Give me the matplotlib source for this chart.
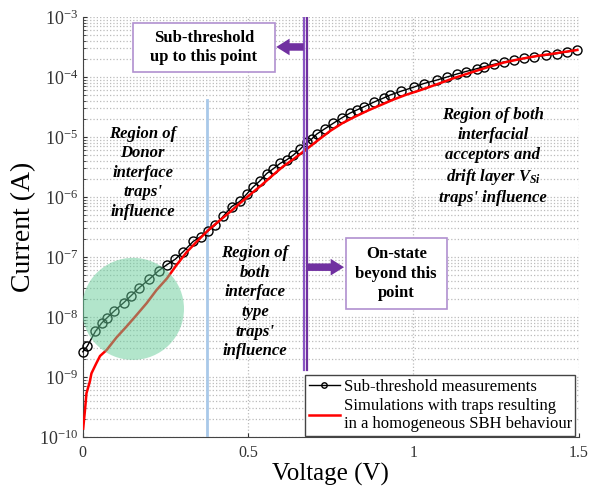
import numpy as np
import matplotlib
matplotlib.use('Agg')
import matplotlib.pyplot as plt
from matplotlib.patches import Ellipse, Rectangle

plt.rcParams['font.family'] = ['Liberation Serif', 'DejaVu Serif']
plt.rcParams['mathtext.fontset'] = 'custom'
plt.rcParams['mathtext.rm'] = 'Liberation Serif'
plt.rcParams['mathtext.it'] = 'Liberation Serif:italic:bold'
plt.rcParams['mathtext.bf'] = 'Liberation Serif:bold'

# measured sub-threshold data (voltage, log10 of current)
meas_v = [0.000, 0.013, 0.038, 0.057, 0.074, 0.095, 0.124, 0.145, 0.171, 0.201,
          0.229, 0.254, 0.279, 0.304, 0.334, 0.357, 0.380, 0.400, 0.425, 0.450,
          0.476, 0.496, 0.514, 0.536, 0.556, 0.576, 0.597, 0.617, 0.637, 0.658,
          0.678, 0.693, 0.708, 0.733, 0.758, 0.784, 0.809, 0.829, 0.849, 0.880,
          0.910, 0.930, 0.961, 1.001, 1.031, 1.072, 1.102, 1.132, 1.158, 1.193,
          1.213, 1.243, 1.274, 1.304, 1.334, 1.365, 1.400, 1.435, 1.466, 1.496]
meas_log = [-8.58, -8.49, -8.24, -8.10, -8.01, -7.90, -7.76, -7.65, -7.51, -7.37,
            -7.23, -7.13, -7.04, -6.91, -6.74, -6.66, -6.56, -6.47, -6.32, -6.16,
            -6.07, -5.95, -5.84, -5.73, -5.61, -5.53, -5.44, -5.38, -5.30, -5.20,
            -5.09, -5.03, -4.95, -4.86, -4.77, -4.68, -4.60, -4.55, -4.50, -4.42,
            -4.35, -4.30, -4.24, -4.17, -4.11, -4.05, -4.00, -3.95, -3.91, -3.86,
            -3.83, -3.79, -3.75, -3.72, -3.69, -3.66, -3.64, -3.61, -3.58, -3.55]

# simulation with traps (voltage, log10 of current)
sim_v = [0.001, 0.006, 0.011, 0.021, 0.026, 0.040, 0.052, 0.072, 0.102, 0.132,
         0.162, 0.193, 0.223, 0.254, 0.284, 0.314, 0.347, 0.380, 0.412, 0.445,
         0.476, 0.506, 0.541, 0.576, 0.606, 0.637, 0.673, 0.710, 0.748, 0.785,
         0.824, 0.862, 0.900, 0.938, 0.976, 1.021, 1.072, 1.122, 1.172, 1.223,
         1.273, 1.324, 1.374, 1.425, 1.460, 1.496]
sim_log = [-9.86, -9.58, -9.27, -9.08, -8.94, -8.78, -8.65, -8.55, -8.34, -8.16,
           -7.97, -7.77, -7.55, -7.36, -7.13, -6.92, -6.73, -6.55, -6.40, -6.25,
           -6.10, -5.96, -5.80, -5.63, -5.49, -5.37, -5.22, -5.06, -4.90, -4.77,
           -4.66, -4.56, -4.47, -4.38, -4.30, -4.22, -4.12, -4.02, -3.93, -3.84,
           -3.76, -3.70, -3.65, -3.61, -3.58, -3.55]

meas_i = 10 ** np.array(meas_log)
sim_i = 10 ** np.array(sim_log)

fig = plt.figure(figsize=(5.96, 4.93), dpi=100)
ax = fig.add_axes([0.139, 0.1136, 0.832, 0.852])

ax.semilogy(meas_v, meas_i, '-o', color='black', lw=1, ms=6.5, mfc='none',
            mec='black', mew=1, label='Sub-threshold measurements', zorder=3, clip_on=False)
ax.semilogy(sim_v, sim_i, color='red', lw=1.8,
            label='Simulations with traps resulting\nin a homogeneous SBH behaviour', zorder=4)

ax.set_xlim(0, 1.5)
ax.set_ylim(1e-10, 1e-3)
ax.set_xticks([0, 0.5, 1, 1.5])
ax.set_xticklabels(['0', '0.5', '1', '1.5'])

ax.grid(True, which='major', axis='both', color='#bbbbbb', linestyle=':', lw=0.9)
ax.grid(True, which='minor', axis='y', color='#bbbbbb', linestyle=':', lw=0.9)
ax.spines['top'].set_visible(False)
ax.spines['right'].set_visible(False)
for s in ['left', 'bottom']:
    ax.spines[s].set_color('#444444')
ax.tick_params(direction='in', which='both', colors='#333333', length=3)
ax.tick_params(axis='y', labelsize=13)
ax.tick_params(axis='x', labelsize=11.5, pad=6)
ax.tick_params(which='minor', length=2)

ax.set_xlabel('Voltage (V)', fontsize=18, labelpad=1)
ax.set_ylabel('Current (A)', fontsize=20)
ax.yaxis.set_label_coords(-0.095, 0.5)

# vertical markers
ax.axvline(0.375, ymin=0.005, ymax=0.802, color='#a9c9e9', lw=2, zorder=2)
ax.axvline(0.669, ymin=0.16, ymax=1, color='#8a55c4', lw=1.6, zorder=5)
ax.axvline(0.677, ymin=0.16, ymax=1, color='#7030a0', lw=1.6, zorder=5)

# highlight circle (axes fraction)
ax.add_patch(Ellipse((0.101, 0.305), 0.206, 0.243, transform=ax.transAxes,
                     facecolor='#66cc99', alpha=0.5, edgecolor='none', zorder=6))

# arrows
arrow_style = 'simple,head_length=0.8,head_width=1.0,tail_width=0.45'
ax.annotate('', xy=(0.585, 10**-3.5), xytext=(0.668, 10**-3.5),
            arrowprops=dict(arrowstyle=arrow_style, color='#7030a0', lw=0,
                            mutation_scale=12, shrinkA=0, shrinkB=0), zorder=7)
ax.annotate('', xy=(0.79, 10**-7.17), xytext=(0.68, 10**-7.17),
            arrowprops=dict(arrowstyle=arrow_style, color='#7030a0', lw=0,
                            mutation_scale=12, shrinkA=0, shrinkB=0), zorder=7)

# boxes
ax.add_patch(Rectangle((0.101, 0.869), 0.286, 0.117, transform=ax.transAxes,
                       facecolor='white', edgecolor='#b090d0', lw=1.2, zorder=8))
ax.text(0.244, 0.927, 'Sub-threshold\nup to this point', transform=ax.transAxes,
        ha='center', va='center', fontsize=12, fontweight='bold', linespacing=1.3, zorder=9)
ax.add_patch(Rectangle((0.530, 0.304), 0.205, 0.169, transform=ax.transAxes,
                       facecolor='white', edgecolor='#b090d0', lw=1.2, zorder=8))
ax.text(0.632, 0.389, 'On-state\nbeyond this\npoint', transform=ax.transAxes,
        ha='center', va='center', fontsize=12, fontweight='bold', linespacing=1.3, zorder=9)

# region labels
ax.text(0.121, 0.629, "Region of\nDonor\ninterface\ntraps'\ninfluence", transform=ax.transAxes,
        ha='center', va='center', fontsize=12, fontweight='bold', style='italic', linespacing=1.3)
ax.text(0.347, 0.321, "Region of\nboth\ninterface\ntype\ntraps'\ninfluence", transform=ax.transAxes,
        ha='center', va='center', fontsize=12, fontweight='bold', style='italic', linespacing=1.3)
ax.text(0.827, 0.667, "Region of both\ninterfacial\nacceptors and\ndrift layer $V_{Si}$\ntraps' influence",
        transform=ax.transAxes, ha='center', va='center', fontsize=12, fontweight='bold',
        style='italic', linespacing=1.3)

leg = ax.legend(loc='lower right', bbox_to_anchor=(0.993, 0.003), fontsize=12, frameon=True,
                fancybox=False, edgecolor='#444444', framealpha=1, handlelength=1.9,
                handletextpad=0.2, borderpad=0.2, labelspacing=0.2, borderaxespad=0,
                markerscale=0.6)
leg.get_frame().set_linewidth(1.0)
leg.set_zorder(10)

plt.savefig('out.png', dpi=100)
